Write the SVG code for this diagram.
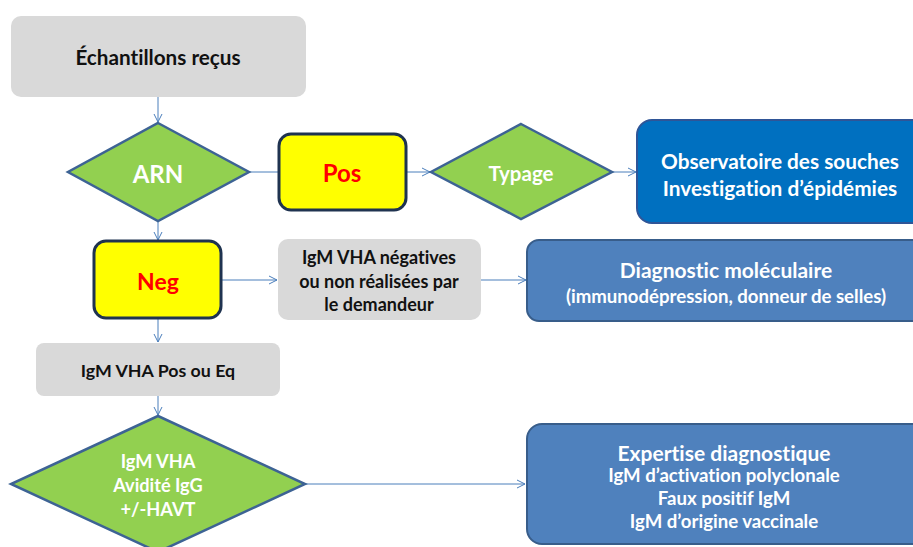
<svg xmlns="http://www.w3.org/2000/svg" width="913" height="547" viewBox="0 0 913 547">
<defs>
<marker id="arr" markerWidth="10" markerHeight="10" refX="9" refY="5" orient="auto" markerUnits="userSpaceOnUse">
<path d="M1,1 L9,5 L1,9" fill="none" stroke="#4a7ebb" stroke-width="1"/>
</marker>
<style>
text{font-family:Lato,"Open Sans","Liberation Sans",sans-serif;font-weight:bold;text-anchor:middle;dominant-baseline:central;font-variant-ligatures:none;font-feature-settings:"liga" 0}
.gray{fill:#d9d9d9}
.dia{fill:#92d050;stroke:#3d6394;stroke-width:2.5}
.yel{fill:#ffff00;stroke:#1f3350;stroke-width:3}
.blk{fill:#111}
.wht{fill:#fff}
.red{fill:#ff0000}
.con{stroke:#4a7ebb;stroke-width:1;fill:none}
</style>
</defs>
<rect width="913" height="547" fill="#fff"/>
<g id="connectors">
<line class="con" x1="158" y1="97" x2="158" y2="122" marker-end="url(#arr)"/>
<line class="con" x1="249" y1="172" x2="279" y2="172"/>
<line class="con" x1="406" y1="172" x2="430" y2="172" marker-end="url(#arr)"/>
<line class="con" x1="612" y1="172" x2="636" y2="172" marker-end="url(#arr)"/>
<line class="con" x1="158" y1="221" x2="158" y2="240" marker-end="url(#arr)"/>
<line class="con" x1="221" y1="280" x2="277" y2="280" marker-end="url(#arr)"/>
<line class="con" x1="481" y1="280" x2="526" y2="280" marker-end="url(#arr)"/>
<line class="con" x1="158" y1="318" x2="158" y2="342" marker-end="url(#arr)"/>
<line class="con" x1="158" y1="396" x2="158" y2="415" marker-end="url(#arr)"/>
<line class="con" x1="305" y1="484" x2="525" y2="484" marker-end="url(#arr)"/>
</g>
<g id="echantillons">
<rect class="gray" x="11" y="16" width="295" height="81" rx="10"/>
<text class="blk" x="158" y="57" font-size="20.7">Échantillons reçus</text>
</g>
<g id="arn">
<polygon class="dia" points="158,123 249,172 158,221 68,172"/>
<text class="wht" x="158" y="173" font-size="24">ARN</text>
</g>
<g id="pos">
<rect class="yel" x="279" y="134" width="127" height="76" rx="12"/>
<text class="red" x="342" y="172" font-size="24">Pos</text>
</g>
<g id="typage">
<polygon class="dia" points="521,124 612,172 521,219 431,172"/>
<text class="wht" x="521" y="173" font-size="20.5">Typage</text>
</g>
<g id="observatoire">
<rect x="637" y="120" width="290" height="103" rx="15" fill="#0070c0" stroke="#2f5597" stroke-width="2"/>
<text class="wht" x="780" y="160" font-size="20.8">Observatoire des souches</text>
<text class="wht" x="780" y="187" font-size="20.8">Investigation d’épidémies</text>
</g>
<g id="neg">
<rect class="yel" x="94" y="241" width="127" height="77" rx="12"/>
<text class="red" x="158" y="281" font-size="23">Neg</text>
</g>
<g id="igm-negatives">
<rect class="gray" x="278" y="239" width="203" height="81" rx="10"/>
<text class="blk" x="379" y="257" font-size="18">IgM VHA négatives</text>
<text class="blk" x="379" y="281" font-size="18">ou non réalisées par</text>
<text class="blk" x="379" y="304" font-size="18">le demandeur</text>
</g>
<g id="diagnostic">
<rect x="527" y="240" width="400" height="81" rx="12" fill="#4f81bd" stroke="#385d8a" stroke-width="2"/>
<text class="wht" x="726" y="269" font-size="21">Diagnostic moléculaire</text>
<text class="wht" x="726" y="296" font-size="18.6">(immunodépression, donneur de selles)</text>
</g>
<g id="igm-pos">
<rect class="gray" x="36" y="343" width="244" height="53" rx="8"/>
<text class="blk" x="158" y="370" font-size="17.8">IgM VHA Pos ou Eq</text>
</g>
<g id="igm-avidite">
<polygon class="dia" points="158,416 305,484 158,552 11,484"/>
<text class="wht" x="158" y="461" font-size="18.2">IgM VHA</text>
<text class="wht" x="158" y="485" font-size="18.2">Avidité IgG</text>
<text class="wht" x="158" y="509" font-size="18.2">+/-HAVT</text>
</g>
<g id="expertise">
<rect x="527" y="424" width="400" height="120" rx="15" fill="#4f81bd" stroke="#385d8a" stroke-width="2"/>
<text class="wht" x="724" y="452" font-size="21">Expertise diagnostique</text>
<text class="wht" x="724" y="475" font-size="18.6">IgM d’activation polyclonale</text>
<text class="wht" x="724" y="498" font-size="18.6">Faux positif IgM</text>
<text class="wht" x="724" y="521" font-size="18.6">IgM d’origine vaccinale</text>
</g>
</svg>
